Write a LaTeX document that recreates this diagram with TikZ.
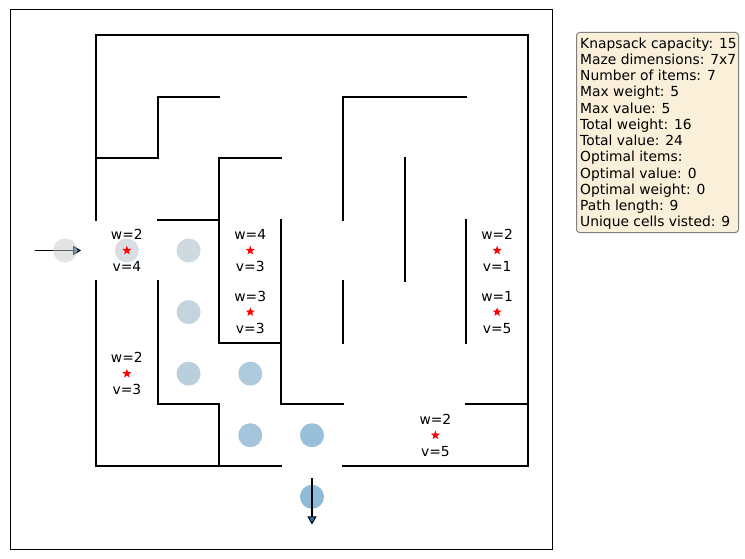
\documentclass[tikz,border=0pt]{standalone}
\usepackage{fontspec}
\setmainfont{DejaVu Sans}
\usetikzlibrary{arrows.meta,shapes.geometric}
\definecolor{mplblue}{HTML}{1F77B4}
\definecolor{pgray}{HTML}{C7C7C7}
\definecolor{wheatbg}{HTML}{FAEFD9}
\definecolor{boxedge}{HTML}{808080}
\tikzset{
  wall/.style={line width=2.1bp, line cap=rect, line join=miter, black},
  pathdot/.style={circle, inner sep=0pt, minimum size=24bp, fill opacity=0.5, draw=none},
  itemstar/.style={star, star points=5, star point ratio=2.4, fill=red, draw=none, minimum size=9.5bp, inner sep=0pt},
  lbl/.style={font=\fontsize{13.9}{16}\selectfont, inner sep=0pt},
  mazearrow/.style={line width=1.4bp, black, -{Triangle[length=8bp,width=9bp,fill=mplblue,line width=1bp]}},
}
\begin{document}
\begin{tikzpicture}[x=1bp,y=-1bp]
\useasboundingbox (0,0) rectangle (745,559);
% axes frame
\draw[line width=1bp] (10,10) rectangle (552,549);
\begin{scope}[xshift=96bp, yshift=-35bp, x=61.71bp, y=-61.57bp]
  % walls
  \draw[wall] (0,3) -- (0,0) -- (7,0) -- (7,7) -- (4,7);
  \draw[wall] (3,7) -- (0,7) -- (0,4);
  \draw[wall] (0,2) -- (1,2) -- (1,1) -- (2,1);
  \draw[wall] (2,2) -- (3,2);
  \draw[wall] (2,2) -- (2,5) -- (3,5);
  \draw[wall] (1,3) -- (2,3);
  \draw[wall] (3,3) -- (3,6) -- (4,6);
  \draw[wall] (1,4) -- (1,6) -- (2,6) -- (2,7);
  \draw[wall] (6,6) -- (7,6);
  \draw[wall] (4,4) -- (4,5);
  \draw[wall] (6,3) -- (6,5);
  \draw[wall] (5,2) -- (5,4);
  \draw[wall] (4,3) -- (4,1) -- (6,1);
  % entry arrow
  \coordinate (entryA) at (-0.99,3.5);
  \coordinate (entryB) at (-0.24,3.5);
  \draw[mazearrow] (entryA) -- (entryB);
  % path
  \node[pathdot, fill=pgray] (p0) at (-0.5,3.5) {};
  \node[pathdot, fill=mplblue!12.5!pgray] (p1) at (0.5,3.5) {};
  \node[pathdot, fill=mplblue!25!pgray] (p2) at (1.5,3.5) {};
  \node[pathdot, fill=mplblue!37.5!pgray] (p3) at (1.5,4.5) {};
  \node[pathdot, fill=mplblue!50!pgray] (p4) at (1.5,5.5) {};
  \node[pathdot, fill=mplblue!62.5!pgray] (p5) at (2.5,5.5) {};
  \node[pathdot, fill=mplblue!75!pgray] (p6) at (2.5,6.5) {};
  \node[pathdot, fill=mplblue!87.5!pgray] (p7) at (3.5,6.5) {};
  \node[pathdot, fill=mplblue] (p8) at (3.5,7.5) {};
  % exit arrow
  \coordinate (exitA) at (3.5,7.2);
  \coordinate (exitB) at (3.5,7.95);
  \draw[mazearrow] (exitA) -- (exitB);
  % items
  \foreach \n/\cx/\cy/\w/\v in {a/0.5/3.5/2/4, b/2.5/3.5/4/3, c/2.5/4.5/3/3, d/0.5/5.5/2/3, e/6.5/3.5/2/1, f/6.5/4.5/1/5, g/5.5/6.5/2/5}{
    \node[itemstar] (s\n) at (\cx,\cy) {};
    \node[lbl, yshift=16bp] (w\n) at (s\n) {w=\w};
    \node[lbl, yshift=-16bp] (v\n) at (s\n) {v=\v};
  }
\end{scope}
% info box
\node[draw=boxedge, fill=wheatbg, rounded corners=3bp, line width=1bp, minimum width=162bp, minimum height=200bp, anchor=north west, inner sep=0pt] (infobox) at (576,32) {};
\node[anchor=north west, inner sep=0pt, align=left, font=\fontsize{13.9}{16.3}\selectfont] (info) at (580,37.5) {Knapsack capacity: 15\\Maze dimensions: 7x7\\Number of items: 7\\Max weight: 5\\Max value: 5\\Total weight: 16\\Total value: 24\\Optimal items:\\Optimal value: 0\\Optimal weight: 0\\Path length: 9\\Unique cells visted: 9};
\end{tikzpicture}
\end{document}
